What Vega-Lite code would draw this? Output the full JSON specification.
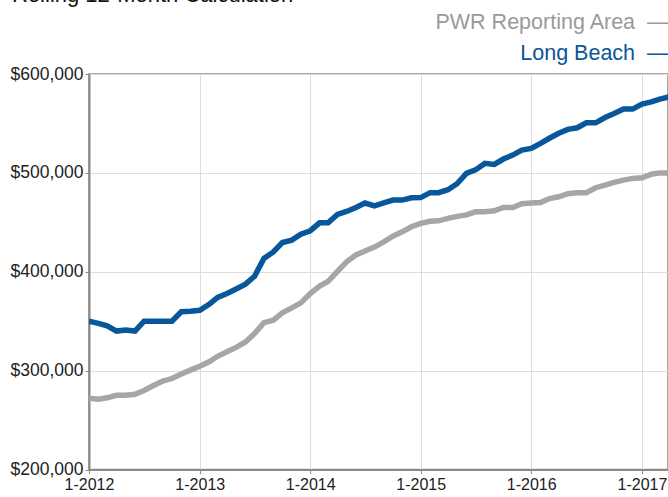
{
  "$schema": "https://vega.github.io/schema/vega-lite/v6.json",
  "autosize": "none",
  "width": 579,
  "height": 395.5,
  "padding": {"left": 89, "top": 74, "right": 0, "bottom": 27.5},
  "background": "white",
  "title": {
    "text": "Rolling 12-Month Calculation",
    "anchor": "start",
    "frame": "group",
    "dx": -77,
    "fontSize": 22,
    "fontWeight": "normal",
    "font": "Liberation Sans",
    "color": "#111111",
    "baseline": "alphabetic",
    "offset": 0,
    "dy": 12
  },
  "config": {
    "view": {"stroke": "#8a8a8a", "strokeWidth": 1.5},
    "font": "Liberation Sans",
    "axis": {
      "labelFont": "Liberation Sans",
      "labelColor": "#222222",
      "gridColor": "#dddddd",
      "gridWidth": 1,
      "domainColor": "#8a8a8a",
      "domainWidth": 2,
      "tickColor": "#8a8a8a",
      "tickSize": 4,
      "title": null
    }
  },
  "data": {
    "values": [
      {"date": "2012/01/01", "series": "Long Beach", "price": 350000},
      {"date": "2012/02/01", "series": "Long Beach", "price": 347800},
      {"date": "2012/03/01", "series": "Long Beach", "price": 345400},
      {"date": "2012/04/01", "series": "Long Beach", "price": 340000},
      {"date": "2012/05/01", "series": "Long Beach", "price": 341000},
      {"date": "2012/06/01", "series": "Long Beach", "price": 340000},
      {"date": "2012/07/01", "series": "Long Beach", "price": 350000},
      {"date": "2012/08/01", "series": "Long Beach", "price": 350000},
      {"date": "2012/09/01", "series": "Long Beach", "price": 350000},
      {"date": "2012/10/01", "series": "Long Beach", "price": 350000},
      {"date": "2012/11/01", "series": "Long Beach", "price": 359500},
      {"date": "2012/12/01", "series": "Long Beach", "price": 360000},
      {"date": "2013/01/01", "series": "Long Beach", "price": 361000},
      {"date": "2013/02/01", "series": "Long Beach", "price": 367000},
      {"date": "2013/03/01", "series": "Long Beach", "price": 374000},
      {"date": "2013/04/01", "series": "Long Beach", "price": 378000},
      {"date": "2013/05/01", "series": "Long Beach", "price": 382500},
      {"date": "2013/06/01", "series": "Long Beach", "price": 387500},
      {"date": "2013/07/01", "series": "Long Beach", "price": 395500},
      {"date": "2013/08/01", "series": "Long Beach", "price": 413500},
      {"date": "2013/09/01", "series": "Long Beach", "price": 420000},
      {"date": "2013/10/01", "series": "Long Beach", "price": 429500},
      {"date": "2013/11/01", "series": "Long Beach", "price": 432000},
      {"date": "2013/12/01", "series": "Long Beach", "price": 438000},
      {"date": "2014/01/01", "series": "Long Beach", "price": 441500},
      {"date": "2014/02/01", "series": "Long Beach", "price": 449500},
      {"date": "2014/03/01", "series": "Long Beach", "price": 449500},
      {"date": "2014/04/01", "series": "Long Beach", "price": 458000},
      {"date": "2014/05/01", "series": "Long Beach", "price": 461000},
      {"date": "2014/06/01", "series": "Long Beach", "price": 465000},
      {"date": "2014/07/01", "series": "Long Beach", "price": 469500},
      {"date": "2014/08/01", "series": "Long Beach", "price": 466700},
      {"date": "2014/09/01", "series": "Long Beach", "price": 469700},
      {"date": "2014/10/01", "series": "Long Beach", "price": 472500},
      {"date": "2014/11/01", "series": "Long Beach", "price": 472500},
      {"date": "2014/12/01", "series": "Long Beach", "price": 474800},
      {"date": "2015/01/01", "series": "Long Beach", "price": 475000},
      {"date": "2015/02/01", "series": "Long Beach", "price": 480000},
      {"date": "2015/03/01", "series": "Long Beach", "price": 480000},
      {"date": "2015/04/01", "series": "Long Beach", "price": 483000},
      {"date": "2015/05/01", "series": "Long Beach", "price": 489000},
      {"date": "2015/06/01", "series": "Long Beach", "price": 499500},
      {"date": "2015/07/01", "series": "Long Beach", "price": 503000},
      {"date": "2015/08/01", "series": "Long Beach", "price": 509600},
      {"date": "2015/09/01", "series": "Long Beach", "price": 508500},
      {"date": "2015/10/01", "series": "Long Beach", "price": 514000},
      {"date": "2015/11/01", "series": "Long Beach", "price": 518000},
      {"date": "2015/12/01", "series": "Long Beach", "price": 523000},
      {"date": "2016/01/01", "series": "Long Beach", "price": 524700},
      {"date": "2016/02/01", "series": "Long Beach", "price": 529800},
      {"date": "2016/03/01", "series": "Long Beach", "price": 535000},
      {"date": "2016/04/01", "series": "Long Beach", "price": 540000},
      {"date": "2016/05/01", "series": "Long Beach", "price": 544000},
      {"date": "2016/06/01", "series": "Long Beach", "price": 545600},
      {"date": "2016/07/01", "series": "Long Beach", "price": 550600},
      {"date": "2016/08/01", "series": "Long Beach", "price": 550600},
      {"date": "2016/09/01", "series": "Long Beach", "price": 556000},
      {"date": "2016/10/01", "series": "Long Beach", "price": 560000},
      {"date": "2016/11/01", "series": "Long Beach", "price": 564500},
      {"date": "2016/12/01", "series": "Long Beach", "price": 564500},
      {"date": "2017/01/01", "series": "Long Beach", "price": 569500},
      {"date": "2017/02/01", "series": "Long Beach", "price": 571800},
      {"date": "2017/03/01", "series": "Long Beach", "price": 574600},
      {"date": "2017/04/01", "series": "Long Beach", "price": 577000},
      {"date": "2012/01/01", "series": "PWR Reporting Area", "price": 272000},
      {"date": "2012/02/01", "series": "PWR Reporting Area", "price": 271000},
      {"date": "2012/03/01", "series": "PWR Reporting Area", "price": 272500},
      {"date": "2012/04/01", "series": "PWR Reporting Area", "price": 275000},
      {"date": "2012/05/01", "series": "PWR Reporting Area", "price": 275000},
      {"date": "2012/06/01", "series": "PWR Reporting Area", "price": 276000},
      {"date": "2012/07/01", "series": "PWR Reporting Area", "price": 280000},
      {"date": "2012/08/01", "series": "PWR Reporting Area", "price": 285000},
      {"date": "2012/09/01", "series": "PWR Reporting Area", "price": 289500},
      {"date": "2012/10/01", "series": "PWR Reporting Area", "price": 292000},
      {"date": "2012/11/01", "series": "PWR Reporting Area", "price": 296500},
      {"date": "2012/12/01", "series": "PWR Reporting Area", "price": 300500},
      {"date": "2013/01/01", "series": "PWR Reporting Area", "price": 304500},
      {"date": "2013/02/01", "series": "PWR Reporting Area", "price": 309000},
      {"date": "2013/03/01", "series": "PWR Reporting Area", "price": 314500},
      {"date": "2013/04/01", "series": "PWR Reporting Area", "price": 319000},
      {"date": "2013/05/01", "series": "PWR Reporting Area", "price": 323500},
      {"date": "2013/06/01", "series": "PWR Reporting Area", "price": 329000},
      {"date": "2013/07/01", "series": "PWR Reporting Area", "price": 337500},
      {"date": "2013/08/01", "series": "PWR Reporting Area", "price": 348500},
      {"date": "2013/09/01", "series": "PWR Reporting Area", "price": 351000},
      {"date": "2013/10/01", "series": "PWR Reporting Area", "price": 358500},
      {"date": "2013/11/01", "series": "PWR Reporting Area", "price": 363500},
      {"date": "2013/12/01", "series": "PWR Reporting Area", "price": 368500},
      {"date": "2014/01/01", "series": "PWR Reporting Area", "price": 378000},
      {"date": "2014/02/01", "series": "PWR Reporting Area", "price": 385500},
      {"date": "2014/03/01", "series": "PWR Reporting Area", "price": 390300},
      {"date": "2014/04/01", "series": "PWR Reporting Area", "price": 400500},
      {"date": "2014/05/01", "series": "PWR Reporting Area", "price": 410000},
      {"date": "2014/06/01", "series": "PWR Reporting Area", "price": 417000},
      {"date": "2014/07/01", "series": "PWR Reporting Area", "price": 421000},
      {"date": "2014/08/01", "series": "PWR Reporting Area", "price": 425000},
      {"date": "2014/09/01", "series": "PWR Reporting Area", "price": 430300},
      {"date": "2014/10/01", "series": "PWR Reporting Area", "price": 436000},
      {"date": "2014/11/01", "series": "PWR Reporting Area", "price": 440400},
      {"date": "2014/12/01", "series": "PWR Reporting Area", "price": 445500},
      {"date": "2015/01/01", "series": "PWR Reporting Area", "price": 449000},
      {"date": "2015/02/01", "series": "PWR Reporting Area", "price": 451000},
      {"date": "2015/03/01", "series": "PWR Reporting Area", "price": 451500},
      {"date": "2015/04/01", "series": "PWR Reporting Area", "price": 454000},
      {"date": "2015/05/01", "series": "PWR Reporting Area", "price": 456000},
      {"date": "2015/06/01", "series": "PWR Reporting Area", "price": 457500},
      {"date": "2015/07/01", "series": "PWR Reporting Area", "price": 460600},
      {"date": "2015/08/01", "series": "PWR Reporting Area", "price": 460600},
      {"date": "2015/09/01", "series": "PWR Reporting Area", "price": 461600},
      {"date": "2015/10/01", "series": "PWR Reporting Area", "price": 465000},
      {"date": "2015/11/01", "series": "PWR Reporting Area", "price": 465000},
      {"date": "2015/12/01", "series": "PWR Reporting Area", "price": 468800},
      {"date": "2016/01/01", "series": "PWR Reporting Area", "price": 469500},
      {"date": "2016/02/01", "series": "PWR Reporting Area", "price": 470000},
      {"date": "2016/03/01", "series": "PWR Reporting Area", "price": 474000},
      {"date": "2016/04/01", "series": "PWR Reporting Area", "price": 475800},
      {"date": "2016/05/01", "series": "PWR Reporting Area", "price": 479000},
      {"date": "2016/06/01", "series": "PWR Reporting Area", "price": 479800},
      {"date": "2016/07/01", "series": "PWR Reporting Area", "price": 480000},
      {"date": "2016/08/01", "series": "PWR Reporting Area", "price": 485000},
      {"date": "2016/09/01", "series": "PWR Reporting Area", "price": 487600},
      {"date": "2016/10/01", "series": "PWR Reporting Area", "price": 490400},
      {"date": "2016/11/01", "series": "PWR Reporting Area", "price": 492700},
      {"date": "2016/12/01", "series": "PWR Reporting Area", "price": 494400},
      {"date": "2017/01/01", "series": "PWR Reporting Area", "price": 495000},
      {"date": "2017/02/01", "series": "PWR Reporting Area", "price": 498700},
      {"date": "2017/03/01", "series": "PWR Reporting Area", "price": 500000},
      {"date": "2017/04/01", "series": "PWR Reporting Area", "price": 500000}
    ]
  },
  "mark": {"type": "line", "strokeWidth": 5.5, "clip": true, "strokeJoin": "miter"},
  "encoding": {
    "x": {
      "field": "date",
      "type": "temporal",
      "scale": {"domain": [{"year": 2012, "month": 1, "date": 1}, {"year": 2017, "month": 3, "date": 28}]},
      "axis": {
        "values": [
          {"year": 2012, "month": 1, "date": 1},
          {"year": 2013, "month": 1, "date": 1},
          {"year": 2014, "month": 1, "date": 1},
          {"year": 2015, "month": 1, "date": 1},
          {"year": 2016, "month": 1, "date": 1},
          {"year": 2017, "month": 1, "date": 1}
        ],
        "format": "%-m-%Y",
        "labelFontSize": 16,
        "labelPadding": 3,
        "labelFlush": false,
        "labelOverlap": false
      }
    },
    "y": {
      "field": "price",
      "type": "quantitative",
      "scale": {"domain": [200000, 600000], "nice": false, "zero": false},
      "axis": {
        "values": [200000, 300000, 400000, 500000, 600000],
        "format": "$,.0f",
        "labelFontSize": 17.5,
        "labelPadding": 2
      }
    },
    "color": {
      "field": "series",
      "type": "nominal",
      "scale": {"domain": ["PWR Reporting Area", "Long Beach"], "range": ["#a6a6a6", "#08579a"]},
      "legend": {
        "orient": "none",
        "legendX": 554,
        "legendY": -62,
        "direction": "vertical",
        "title": null,
        "symbolOpacity": 0,
        "symbolSize": 0,
        "labelFontSize": 21.5,
        "labelFont": "Liberation Sans",
        "labelExpr": "datum.label + '\u00a0\u00a0\u2014'",
        "labelColor": {"expr": "datum.value == 'Long Beach' ? '#0b5599' : '#9a9a9a'"},
        "labelAlign": "right",
        "labelLimit": 400,
        "rowPadding": 8.5
      }
    }
  }
}
